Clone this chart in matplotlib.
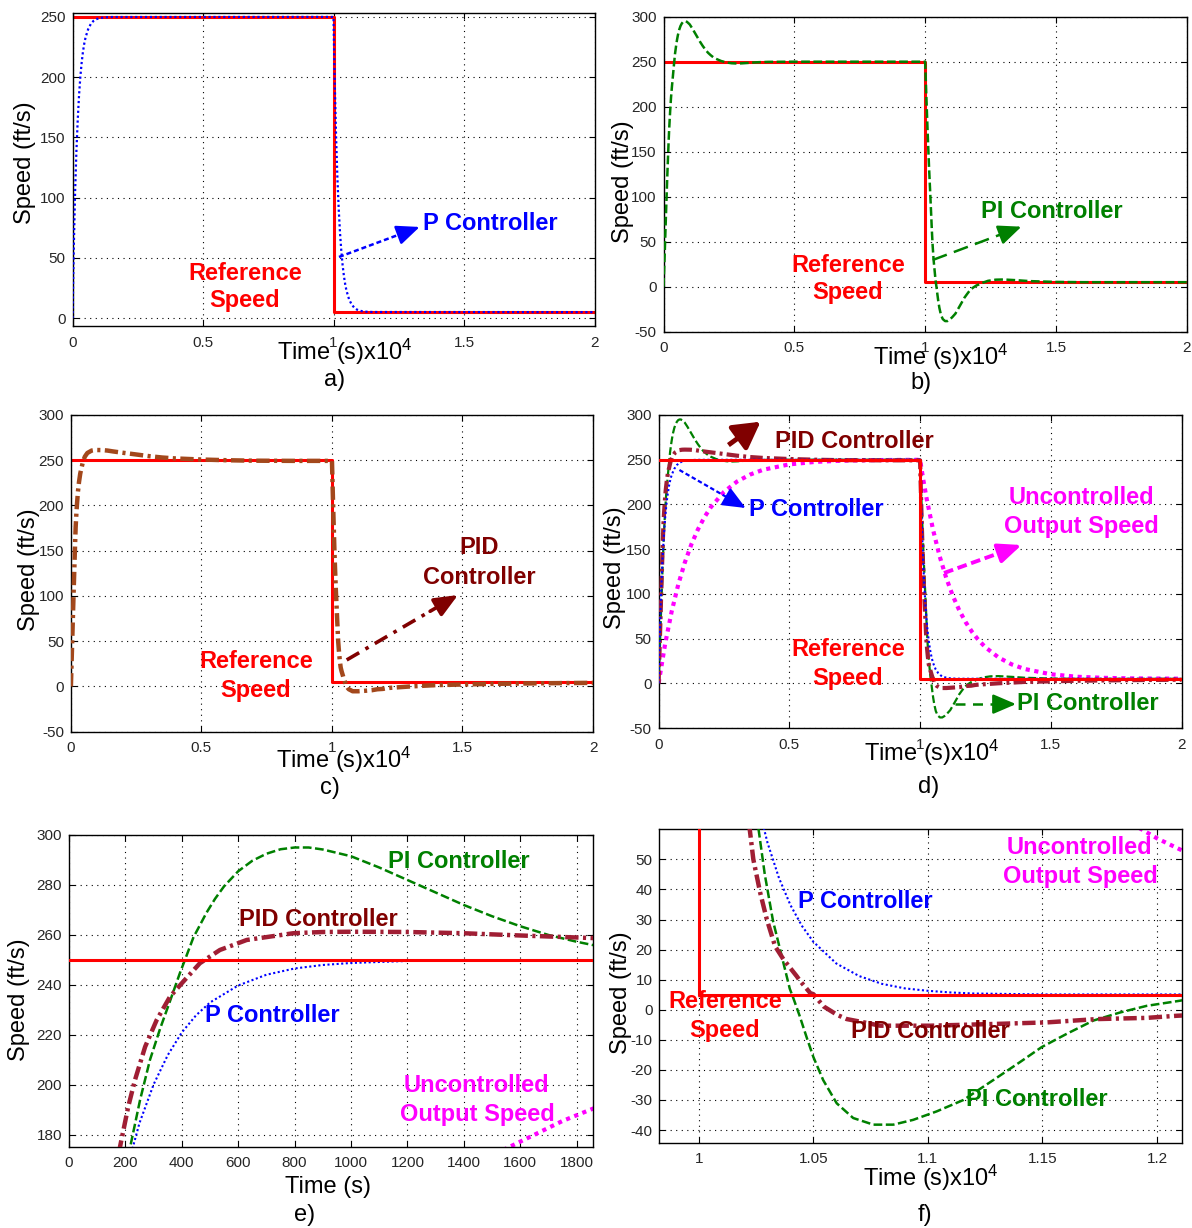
import matplotlib
matplotlib.use('Agg')
import matplotlib.pyplot as plt
import numpy as np

plt.rcParams['font.family'] = ['Liberation Sans', 'DejaVu Sans']
plt.rcParams['mathtext.fontset'] = 'custom'
plt.rcParams['mathtext.rm'] = 'Liberation Sans'
plt.rcParams['mathtext.default'] = 'regular'

# ---------------- data (time in seconds, speed in ft/s) ----------------
ref_t = [0, 10000, 10000, 20000]
ref_v = [250, 250, 5, 5]

p_t = [0, 25, 50, 75, 100, 150, 200, 250, 300, 350, 400, 450, 500, 600, 700, 800, 900,
       1000, 1200, 1500, 10000, 10025, 10050, 10100, 10150, 10200, 10250, 10300, 10350,
       10400, 10450, 10500, 10600, 10700, 10800, 10900, 11000, 11100, 11200, 11500, 20000]
p_v = [0, 31.5, 58.8, 82.9, 104.9, 138.9, 164.2, 184.8, 200.2, 211.9, 221.0, 227.8, 233.0,
       239.8, 244.1, 246.6, 248.0, 248.8, 249.6, 249.9, 250, 219.8, 193.3, 149.7, 116.2,
       90.5, 70.7, 55.5, 43.8, 34.8, 27.9, 22.6, 15.4, 11.2, 8.6, 7.1, 6.3, 5.75, 5.4, 5.1, 5.0]

pi_t = [0, 50, 100, 150, 191, 216, 252, 287, 323, 358, 394, 411, 441, 488, 518, 550, 600,
        650, 700, 750, 800, 850, 900, 1000, 1100, 1200, 1300, 1400, 1500, 1600, 1700, 1800,
        1900, 2000, 2200, 2400, 2600, 2800, 3000, 3300, 3600, 4000, 5000, 10000,
        10050, 10100, 10150, 10200, 10259, 10288, 10324, 10368, 10397, 10412, 10440, 10470,
        10500, 10543, 10602, 10674, 10762, 10849, 10936, 11038, 11155, 11285, 11402, 11497,
        11606, 11722, 11839, 11955, 12100, 12200, 12400, 12700, 13000, 13500, 14000, 15000,
        16000, 20000]
pi_v = [0, 40, 85, 127, 158, 174.7, 194, 210, 222.5, 233.5, 245, 250, 259, 269, 274.5, 279.5,
        285.5, 289.7, 292.5, 294.3, 295, 295, 294.2, 291.5, 287, 282, 277, 272, 267.5, 263.5,
        260, 257.3, 255, 253.3, 250.8, 249.2, 248.3, 248, 248.2, 248.8, 249.4, 249.8, 250, 250,
        208, 168, 132, 100, 61, 45, 29.5, 16, 7, 4, -2, -9,
        -15.7, -23.4, -31.1, -36, -38.2, -38.2, -36.6, -33.8, -30, -23.4, -17.4, -12.4,
        -8, -3.6, -0.9, 1.3, 3.0, 4.4, 6.5, 7.8, 8, 7.2, 6.2, 5.3,
        5, 5]

pid_t = [0, 50, 100, 150, 181, 210, 234, 270, 311, 358, 400, 464, 535, 630, 795, 900, 1000,
         1200, 1400, 1600, 1800, 1900, 2200, 2600, 3000, 3500, 4000, 5000, 6000, 7000, 8500,
         10000, 10050, 10100, 10150, 10200, 10216, 10238, 10268, 10297, 10333, 10370, 10428,
         10442, 10487, 10500, 10545, 10604, 10646, 10735, 10791, 11009, 11300, 11519, 11737,
         11955, 12086, 12200, 13000, 14000, 16000, 18000, 20000]
pid_v = [0, 50, 100, 148, 175.3, 191.3, 202, 215.3, 226, 235.3, 240.7, 248.7, 254, 258, 260.7,
         261.2, 261.3, 261.2, 260.7, 259.8, 259, 258.6, 257.5, 256, 254.5, 253, 252, 250.8, 250,
         249.5, 249.3, 249.3, 195, 145, 106, 74, 64, 50, 38.9, 30, 21.1, 16.7, 11.1,
         9.6, 5.5, 5.2, 1.1, -1.7, -3.1, -4.4, -5.3, -5.3, -4.7, -4.2, -3.1,
         -2.7, -2.0, -1.6, 0, 1.5, 2.8, 3.5, 4.0]

unc_t = [0, 250, 500, 750, 1000, 1250, 1500, 1750, 2000, 2500, 3000, 3500, 4000, 5000, 6000,
         7000, 8000, 10000, 10000, 10125, 10250, 10500, 10750, 11000, 11250, 11500, 11750,
         12000, 12250, 12500, 13000, 13500, 14000, 15000, 16000, 17000, 18000, 20000]
unc_v = [0, 44.0, 80.3, 110.2, 134.8, 155.1, 171.8, 185.6, 197.0, 214.0, 225.6, 233.4, 238.8,
         244.8, 247.6, 248.9, 249.5, 249.9, 250, 227.4, 206.8, 171.3, 142.0, 117.9, 98.0,
         81.6, 68.1, 57.0, 47.8, 40.3, 28.9, 21.2, 16.0, 10.1, 7.3, 6.1, 5.5, 5.1]

xt_main = [0, 0.5, 1, 1.5, 2]
xt_main_lbl = ['0', '0.5', '1', '1.5', '2']
xt_e = [0, 200, 400, 600, 800, 1000, 1200, 1400, 1600, 1800]
xt_f = [1, 1.05, 1.1, 1.15, 1.2]
xt_f_lbl = ['1', '1.05', '1.1', '1.15', '1.2']
yt_a = [0, 50, 100, 150, 200, 250]
yt_bcd = [-50, 0, 50, 100, 150, 200, 250, 300]
yt_e = [180, 200, 220, 240, 260, 280, 300]
yt_f = [-40, -30, -20, -10, 0, 10, 20, 30, 40, 50]

# ---------------- styles ----------------
RED = '#ff0000'
BLUE = '#0000ff'
GREEN = '#008000'
PIDC = '#a01e34'
PIDC_C = '#a3481c'
MAG = '#ff00ff'
MAROON = '#800000'
LS_P = (0, (1, 1.2))
LS_PI = (0, (3.5, 1.4))
LS_PID = (0, (3, 1, 0.7, 1))
LS_U = (0, (1, 1.1))

W, H = 1192, 1228
fig = plt.figure(figsize=(W / 100, H / 100), dpi=100)


def add_ax(l, t, r, b):
    return fig.add_axes([l / W, 1 - b / H, (r - l) / W, (b - t) / H])


def ftext(x, y, s, color='black', size=17, weight='bold', rot=0):
    fig.text(x / W, 1 - y / H, s, color=color, fontsize=size, fontweight=weight,
             ha='center', va='center', rotation=rot)


def style(ax, xlim, ylim, xt, xtl, yt):
    ax.set_xlim(xlim)
    ax.set_ylim(ylim)
    ax.set_xticks(xt)
    ax.set_xticklabels(xtl)
    ax.set_yticks(yt)
    ax.set_yticklabels([str(v) for v in yt])
    ax.grid(True, color='black', linestyle=(0, (1, 4)), linewidth=0.8)
    ax.tick_params(direction='in', length=4, width=0.8, labelsize=11, labelcolor='#262626',
                   top=True, right=True, pad=5)
    ax.tick_params(axis='x', pad=7)
    for s in ax.spines.values():
        s.set_linewidth(1.0)


def arrow(ax, start, tip, color, lw, ls, hl=0.7, hw=0.3, ms=20):
    sx, sy = start
    tx, ty = tip
    bx = tx - 0.25 * (tx - sx)
    by = ty - 0.25 * (ty - sy)
    ax.plot([sx, bx], [sy, by], color=color, lw=lw, linestyle=ls, solid_capstyle='butt',
            zorder=6, clip_on=False)
    ax.annotate('', xy=(tx, ty), xytext=(bx, by),
                arrowprops=dict(arrowstyle='-|>,head_length=%g,head_width=%g' % (hl, hw),
                                color=color, lw=lw, mutation_scale=ms, shrinkA=0, shrinkB=0),
                zorder=7, annotation_clip=False)


def ts(t, scale=1e4):
    return np.asarray(t, dtype=float) / scale


# ---------------- a) ----------------
ax = add_ax(72.5, 13.3, 594.5, 326)
ax.plot(ts(ref_t), ref_v, color=RED, lw=2.2, zorder=2)
ax.plot(ts(p_t), p_v, color=BLUE, lw=1.6, linestyle=LS_P, zorder=3)
style(ax, (0, 2), (-6.5, 253), xt_main, xt_main_lbl, yt_a)
arrow(ax, (1.021, 50.8), (1.33, 75.7), BLUE, 1.8, (0, (2, 1.2)))
ftext(490, 223, 'P Controller', BLUE)
ftext(245, 273, 'Reference', RED)
ftext(245, 301, 'Speed', RED)
ftext(25, 163, 'Speed (ft/s)', 'black', 17, 'normal', 90)
ftext(345, 352, 'Time (s)x10$^4$', 'black', 17, 'normal')
ftext(335, 380, 'a)', 'black', 17, 'normal')

# ---------------- b) ----------------
ax = add_ax(663.5, 16.7, 1186.8, 331.7)
ax.plot(ts(ref_t), ref_v, color=RED, lw=2.2, zorder=2)
ax.plot(ts(pi_t), pi_v, color=GREEN, lw=1.8, linestyle=LS_PI, zorder=3)
style(ax, (0, 2), (-50, 300), xt_main, xt_main_lbl, yt_bcd)
arrow(ax, (1.029, 29.7), (1.368, 66.7), GREEN, 1.8, (0, (6, 3)))
ftext(1052, 211, 'PI Controller', GREEN)
ftext(848, 265, 'Reference', RED)
ftext(848, 293, 'Speed', RED)
ftext(623, 182, 'Speed (ft/s)', 'black', 17, 'normal', 90)
ftext(941, 357, 'Time (s)x10$^4$', 'black', 17, 'normal')
ftext(921, 383, 'b)', 'black', 17, 'normal')

# ---------------- c) ----------------
ax = add_ax(70.9, 415, 593, 731.7)
ax.plot(ts(ref_t), ref_v, color=RED, lw=2.2, zorder=2)
ax.plot(ts(pid_t), pid_v, color=PIDC_C, lw=3.2, linestyle=LS_PID, zorder=3)
style(ax, (0, 2), (-50, 300), xt_main, xt_main_lbl, yt_bcd)
arrow(ax, (1.0565, 29.3), (1.4825, 101), MAROON, 2.6, (0, (4, 2, 1, 2)))
ftext(479, 548, 'PID', MAROON)
ftext(479, 577, 'Controller', MAROON)
ftext(256, 662, 'Reference', RED)
ftext(256, 690, 'Speed', RED)
ftext(29, 570, 'Speed (ft/s)', 'black', 17, 'normal', 90)
ftext(344, 760, 'Time (s)x10$^4$', 'black', 17, 'normal')
ftext(330, 788, 'c)', 'black', 17, 'normal')

# ---------------- d) ----------------
ax = add_ax(658.6, 415, 1181.5, 728)
ax.plot(ts(unc_t), unc_v, color=MAG, lw=3.0, linestyle=LS_U, zorder=2)
ax.plot(ts(pi_t), pi_v, color=GREEN, lw=1.6, linestyle=LS_PI, zorder=3)
ax.plot(ts(pid_t), pid_v, color=PIDC, lw=3.0, linestyle=LS_PID, zorder=3)
ax.plot(ts(p_t), p_v, color=BLUE, lw=1.5, linestyle=LS_P, zorder=4)
ax.plot(ts(ref_t), ref_v, color=RED, lw=2.2, zorder=5)
style(ax, (0, 2), (-50, 300), xt_main, xt_main_lbl, yt_bcd)
arrow(ax, (0.267, 266.4), (0.39, 292.5), MAROON, 3.5, '-', hl=0.8, hw=0.45, ms=20)
arrow(ax, (0.0796, 238.5), (0.333, 196), BLUE, 1.6, (0, (2, 1.2)))
arrow(ax, (1.0916, 123.3), (1.388, 154.6), MAG, 2.8, (0, (2.5, 1.2)))
arrow(ax, (1.134, -23.3), (1.367, -23.3), GREEN, 1.8, (0, (4, 3)))
ftext(854, 441, 'PID Controller', MAROON)
ftext(816, 509, 'P Controller', BLUE)
ftext(1081, 497, 'Uncontrolled', MAG)
ftext(1081, 526, 'Output Speed', MAG)
ftext(848, 650, 'Reference', RED)
ftext(848, 678, 'Speed', RED)
ftext(1088, 703, 'PI Controller', GREEN)
ftext(615, 568, 'Speed (ft/s)', 'black', 17, 'normal', 90)
ftext(932, 753, 'Time (s)x10$^4$', 'black', 17, 'normal')
ftext(929, 787, 'd)', 'black', 17, 'normal')

# ---------------- e) ----------------
ax = add_ax(69, 835, 593, 1146.7)
ax.plot(unc_t, unc_v, color=MAG, lw=3.0, linestyle=LS_U, zorder=2)
ax.plot(p_t, p_v, color=BLUE, lw=1.5, linestyle=LS_P, zorder=3)
ax.plot(pi_t, pi_v, color=GREEN, lw=1.8, linestyle=LS_PI, zorder=3)
ax.plot(pid_t, pid_v, color=PIDC, lw=3.2, linestyle=LS_PID, zorder=3)
ax.plot(ref_t, ref_v, color=RED, lw=2.2, zorder=5)
style(ax, (0, 1858), (175.3, 300), xt_e, [str(v) for v in xt_e], yt_e)
ftext(459, 862, 'PI Controller', GREEN)
ftext(318, 919, 'PID Controller', MAROON)
ftext(272, 1015, 'P Controller', BLUE)
ftext(476, 1086, 'Uncontrolled', MAG)
ftext(477, 1115, 'Output Speed', MAG)
ftext(19, 1000, 'Speed (ft/s)', 'black', 17, 'normal', 90)
ftext(328, 1187, 'Time (s)', 'black', 17, 'normal')
ftext(305, 1215, 'e)', 'black', 17, 'normal')

# ---------------- f) ----------------
ax = add_ax(659.4, 829.3, 1181.5, 1142.7)
ax.plot(ts(unc_t), unc_v, color=MAG, lw=3.0, linestyle=LS_U, zorder=2)
ax.plot(ts(p_t), p_v, color=BLUE, lw=1.5, linestyle=LS_P, zorder=3)
ax.plot(ts(pi_t), pi_v, color=GREEN, lw=1.8, linestyle=LS_PI, zorder=3)
ax.plot(ts(pid_t), pid_v, color=PIDC, lw=3.2, linestyle=LS_PID, zorder=3)
ax.plot(ts(ref_t), ref_v, color=RED, lw=2.2, zorder=5)
style(ax, (0.9828, 1.2107), (-44.2, 60), xt_f, xt_f_lbl, yt_f)
ftext(1079, 847, 'Uncontrolled', MAG)
ftext(1080, 877, 'Output Speed', MAG)
ftext(865, 902, 'P Controller', BLUE)
ftext(725, 1002, 'Reference', RED)
ftext(725, 1030, 'Speed', RED)
ftext(930, 1032, 'PID Controller', MAROON)
ftext(1037, 1100, 'PI Controller', GREEN)
ftext(621, 993, 'Speed (ft/s)', 'black', 17, 'normal', 90)
ftext(931, 1178, 'Time (s)x10$^4$', 'black', 17, 'normal')
ftext(925, 1215, 'f)', 'black', 17, 'normal')

fig.savefig('out.png', dpi=100)
